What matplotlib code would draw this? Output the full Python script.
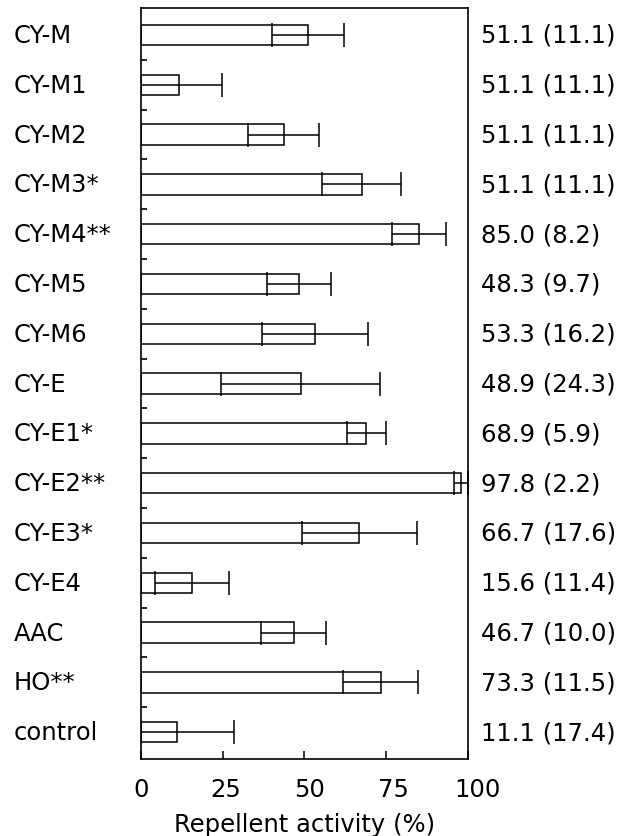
import matplotlib
matplotlib.use('Agg')
import matplotlib.pyplot as plt
import matplotlib.transforms as mtransforms
import numpy as np

# samples, top to bottom
names = ["CY-M", "CY-M1", "CY-M2", "CY-M3*", "CY-M4**", "CY-M5", "CY-M6",
         "CY-E", "CY-E1*", "CY-E2**", "CY-E3*", "CY-E4", "AAC", "HO**", "control"]
# bar lengths and error half-widths as drawn
means = [51.1, 11.7, 43.6, 67.5, 85.0, 48.3, 53.3, 48.9, 68.9, 97.8, 66.7, 15.6, 46.7, 73.3, 11.1]
errs = [11.1, 13.2, 11.0, 12.0, 8.2, 9.7, 16.2, 24.3, 5.9, 2.2, 17.6, 11.4, 10.0, 11.5, 17.4]
# text printed at the right (kept as in the figure)
value_text = ["51.1 (11.1)", "51.1 (11.1)", "51.1 (11.1)", "51.1 (11.1)", "85.0 (8.2)",
              "48.3 (9.7)", "53.3 (16.2)", "48.9 (24.3)", "68.9 (5.9)", "97.8 (2.2)",
              "66.7 (17.6)", "15.6 (11.4)", "46.7 (10.0)", "73.3 (11.5)", "11.1 (17.4)"]
xticks = [0, 25, 50, 75, 100]

plt.rcParams['font.family'] = ['DejaVu Sans']
fs = 17.5

fig = plt.figure(figsize=(6.31, 8.37), dpi=100)
ax = fig.add_axes([0.2235, 0.092, 0.518, 0.8972])

y = np.arange(len(names))
ax.barh(y, means, height=0.41, color='white', edgecolor='black', linewidth=1.1, zorder=2)
ax.errorbar(means, y, xerr=errs, fmt='none', ecolor='black', elinewidth=1.1,
            capsize=8.5, capthick=1.1, zorder=3)

ax.set_ylim(len(names) - 0.46, -0.54)
ax.set_xlim(0, 100)
ax.set_yticks(y[:-1] + 0.5)
ax.set_yticklabels([])
ax.tick_params(axis='y', direction='in', length=4, width=1.2, left=True, right=False)
ax.set_xticks(xticks)
ax.set_xticklabels([str(t) for t in xticks], fontsize=fs)
ax.tick_params(axis='x', direction='in', length=6, width=1.1, pad=13, top=False)
# labels in the original sit a little wider apart than the ticks
for t, lab in zip(xticks, ax.get_xticklabels()):
    lab.set_transform(lab.get_transform() +
                      mtransforms.ScaledTranslation(t * 0.1 / 100, 0, fig.dpi_scale_trans))
for sp in ax.spines.values():
    sp.set_linewidth(1.2)
ax.set_xlabel("Repellent activity (%)", fontsize=fs, labelpad=8)

trans = mtransforms.blended_transform_factory(fig.transFigure, ax.transData)
for i in range(len(names)):
    ax.text(14 / 631, i, names[i], transform=trans, ha='left', va='center',
            fontsize=fs, clip_on=False)
    ax.text(481 / 631, i, value_text[i], transform=trans, ha='left', va='center',
            fontsize=fs, clip_on=False)

fig.savefig("out.png", dpi=100)
